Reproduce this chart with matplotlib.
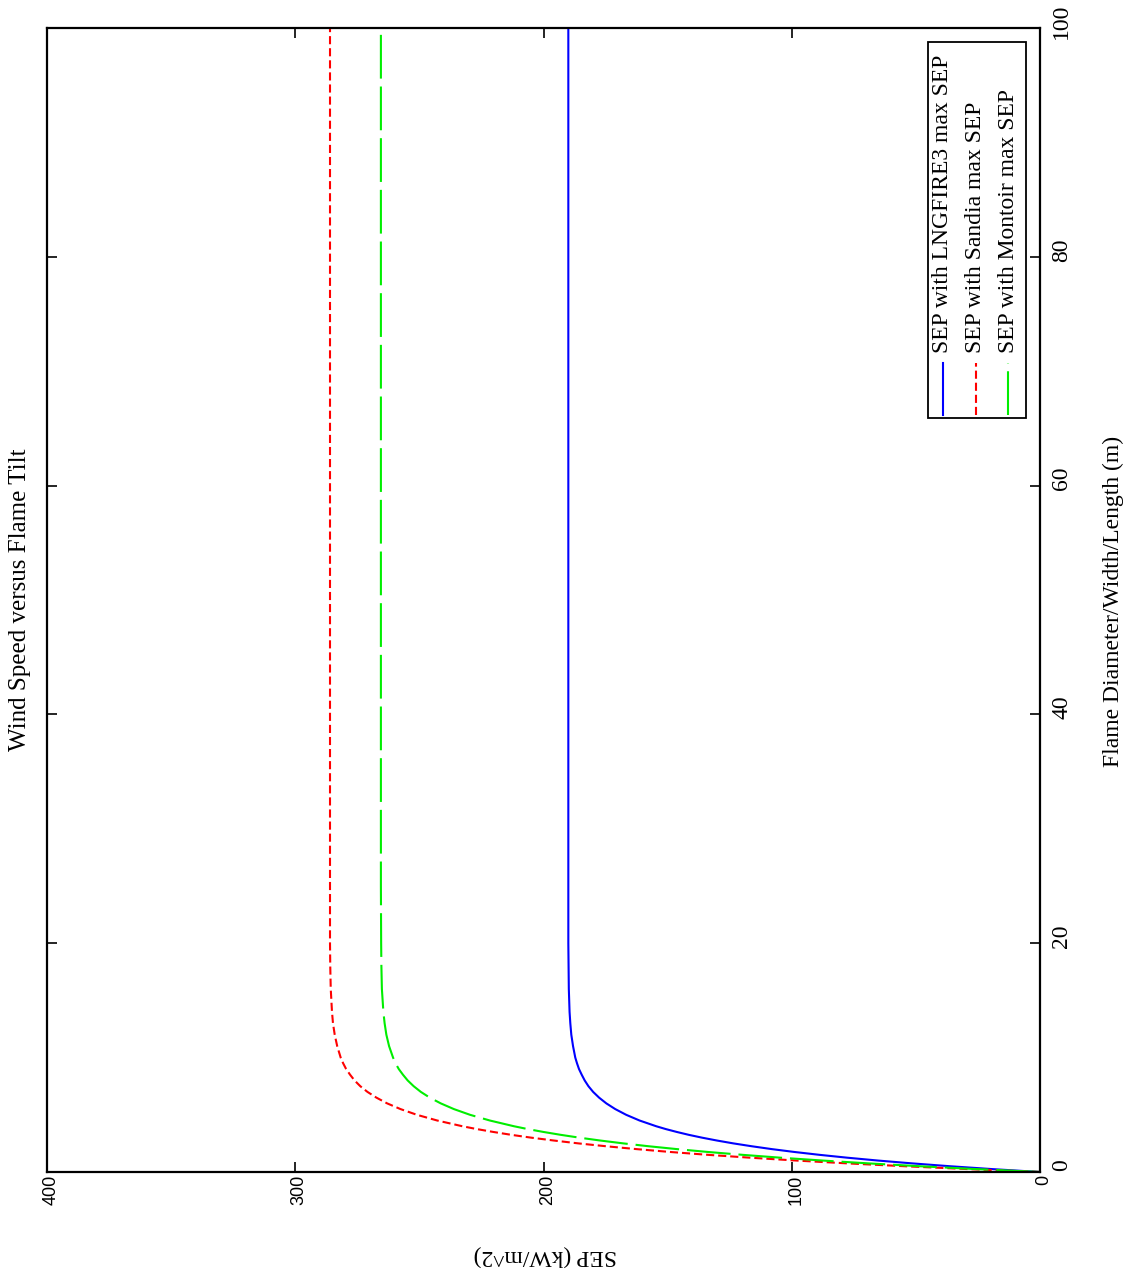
import matplotlib
matplotlib.use("Agg")
import matplotlib.pyplot as plt
import matplotlib.transforms as mtransforms
from matplotlib.patches import Rectangle

# flame diameter (m) and SEP (kW/m^2)
diameter = [0, 0.25, 0.5, 0.75, 1, 1.25, 1.5, 1.75, 2, 2.25, 2.5, 2.75, 3,
            3.25, 3.5, 3.75, 4, 4.5, 5, 5.5, 6, 6.5, 7, 7.5, 8, 8.5, 9, 9.5,
            10, 11, 12, 13, 14, 16, 18, 20, 25, 30, 50, 100]
sep_lngfire3 = [0, 19.0, 36.0, 51.3, 65.2, 77.6, 88.8, 98.9, 108.0, 116.1,
                123.5, 130.1, 136.1, 141.5, 146.3, 150.7, 154.6, 161.3, 166.7,
                171.1, 174.7, 177.6, 180.0, 181.9, 183.4, 184.6, 185.7, 186.5,
                187.2, 188.1, 188.8, 189.2, 189.5, 189.8, 189.9, 190, 190, 190,
                190, 190]
sep_sandia = [0, 28.6, 54.2, 77.3, 98.1, 116.8, 133.7, 148.9, 162.5, 174.8,
              185.9, 195.8, 204.9, 213.0, 220.2, 226.8, 232.7, 242.8, 251.0,
              257.6, 263.0, 267.3, 270.9, 273.8, 276.1, 277.9, 279.5, 280.7,
              281.7, 283.1, 284.1, 284.8, 285.2, 285.7, 285.9, 286, 286, 286,
              286, 286]
sep_montoir = [0, 25.3, 48.1, 68.8, 87.5, 104.5, 119.8, 133.7, 146.2, 157.6,
               167.8, 177.1, 185.5, 193.1, 200.0, 206.3, 211.9, 221.6, 229.6,
               236.1, 241.4, 245.8, 249.4, 252.3, 254.7, 256.6, 258.3, 259.6,
               260.6, 262.2, 263.3, 264.0, 264.5, 265.1, 265.3, 265.4, 265.5,
               265.5, 265.5, 265.5]

series_labels = ["SEP with LNGFIRE3 max SEP", "SEP with Sandia max SEP",
                 "SEP with Montoir max SEP"]
sep_ticks = [0, 100, 200, 300, 400]
diam_ticks = [0, 20, 40, 60, 80, 100]

serif = "Liberation Serif"
sans = "Liberation Sans"

fig = plt.figure(figsize=(11.32, 12.79), dpi=100)
ax = fig.add_axes([47 / 1132, 107 / 1279, 993 / 1132, 1144 / 1279])

styles = [
    dict(color="#0000ff", linestyle="-"),
    dict(color="#ff0000", linestyle=(0, (3.9, 1.9))),
    dict(color="#00ee00", linestyle=(0, (21, 3.8))),
]
for sep, st in zip([sep_lngfire3, sep_sandia, sep_montoir], styles):
    ax.plot(sep, diameter, linewidth=1.5, **st)

ax.set_xlim(400, 0)
ax.set_ylim(0, 100)
ax.set_xticks(sep_ticks)
ax.set_yticks(diam_ticks)
ax.tick_params(axis="both", direction="in", length=7, width=1.2,
               top=True, bottom=True, left=True, right=True)
ax.tick_params(axis="x", labelrotation=90, pad=2, labelsize=13)
ax.tick_params(axis="y", labelleft=False, labelright=True, labelrotation=90,
               pad=8, labelsize=17)
for lab in ax.get_xticklabels():
    lab.set_fontfamily(sans)
    lab.set_transform(lab.get_transform() + mtransforms.ScaledTranslation(
        0.04, 0, fig.dpi_scale_trans))
for lab in ax.get_yticklabels():
    lab.set_fontfamily(serif)
    lab.set_verticalalignment("center")
    lab.set_transform(lab.get_transform() + mtransforms.ScaledTranslation(
        0, 0.07, fig.dpi_scale_trans))
for sp in ax.spines.values():
    sp.set_linewidth(1.6)

# legend drawn by hand, rotated like the rest of the page
ax.add_patch(Rectangle((0.887, 0.659), 0.099, 0.329, transform=ax.transAxes,
                       fill=False, edgecolor="black", linewidth=1.3, zorder=5))
for i, (lbl, st) in enumerate(zip(series_labels, styles)):
    xc = [0.9023, 0.9355, 0.9678][i]
    ax.plot([xc, xc], [0.6617, 0.707], transform=ax.transAxes, linewidth=1.5,
            zorder=6, **st)
    ax.text(xc, 0.716, lbl, transform=ax.transAxes, rotation=90, ha="center",
            va="bottom", fontsize=17, family=serif, zorder=6)

fig.text(20 / 1132, 1 - 600 / 1279, "Wind Speed versus Flame Tilt", rotation=90,
         ha="center", va="center", fontsize=18, family=serif)
fig.text(1113 / 1132, 1 - 601 / 1279, "Flame Diameter/Width/Length (m)",
         rotation=90, ha="center", va="center", fontsize=17, family=serif)
fig.text(545 / 1132, 1 - 1256 / 1279, "SEP (kW/m^2)", rotation=180,
         ha="center", va="center", fontsize=17, family=serif)

fig.savefig("out.png", dpi=100)
